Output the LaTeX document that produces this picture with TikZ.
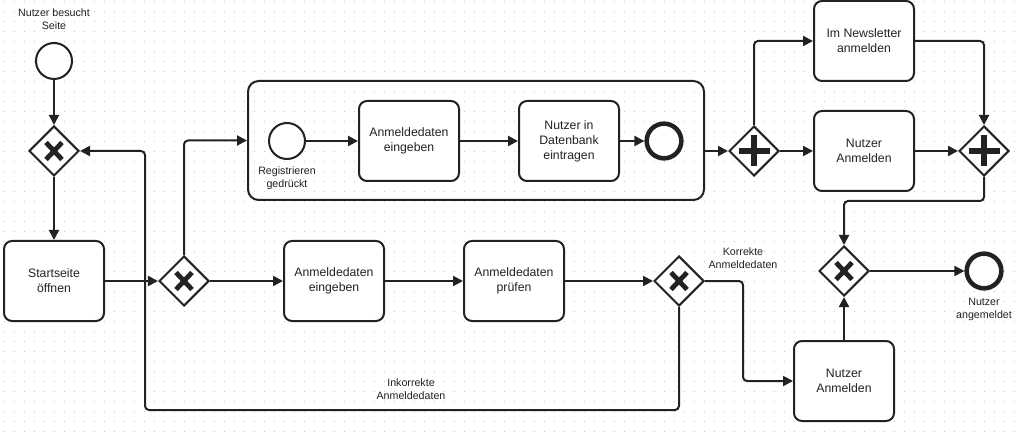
\documentclass[tikz,border=0pt]{standalone}
\usepackage{fontspec}
\setmainfont{Liberation Sans}
\usetikzlibrary{shapes.geometric,arrows.meta,calc}
\definecolor{ln}{HTML}{222222}
\definecolor{dotc}{HTML}{C4C4C4}
\tikzset{
 task/.style={draw=ln, fill=white, line width=1.5pt, rounded corners=6pt, minimum width=75pt, minimum height=60pt, align=center, font=\fontsize{9.2}{11.2}\selectfont, inner sep=0pt, text=ln},
 subproc/.style={draw=ln, line width=1.5pt, rounded corners=8pt, inner sep=0pt},
 gw/.style={draw=ln, diamond, line width=1.5pt, minimum width=37.5pt, minimum height=37.5pt, inner sep=0pt, fill=white},
 startev/.style={draw=ln, circle, line width=1.5pt, minimum size=27pt, inner sep=0pt, fill=white},
 endev/.style={draw=ln, circle, line width=3.4pt, minimum size=26pt, inner sep=0pt, fill=white},
 lbl/.style={align=center, font=\fontsize{8}{9.75}\selectfont, inner sep=0pt, text=ln},
 flow/.style={draw=ln, line width=1.5pt, rounded corners=3pt, -{Triangle[length=7.5pt,width=7.5pt]}},
 xmark/.style={draw=ln, line width=3.6pt},
 pmark/.style={draw=ln, line width=5.2pt},
}
\begin{document}
\begin{tikzpicture}[x=0.75pt,y=-0.75pt]
\useasboundingbox (0,0) rectangle (1019,434);
\fill[white] (0,0) rectangle (1019,434);
\foreach \x in {4,14,...,1014}{\foreach \y in {1,11,...,431}{\fill[dotc] (\x,\y) rectangle ++(1,1);}}
% nodes
\node[startev] (s0) at (54,61) {};
\node[lbl] (s0l) at (54,19) {Nutzer besucht\\Seite};
\node[gw] (g1) at (54,151) {};
\node[task] (t1) at (54,281) {Startseite\\öffnen};
\node[gw] (g2) at (184,281) {};
\node[task] (t2) at (334,281) {Anmeldedaten\\eingeben};
\node[task] (t3) at (514,281) {Anmeldedaten\\prüfen};
\node[gw] (g3) at (679,281) {};
\node[lbl] (l3) at (743,258) {Korrekte\\Anmeldedaten};
\node[lbl] (l4) at (411,389) {Inkorrekte\\Anmeldedaten};
\node[subproc, minimum width=342pt, minimum height=89.25pt] (sp) at (476,140.5) {};
\node[startev] (ss) at (287,141) {};
\node[lbl] (ssl) at (287,178) {Registrieren\\gedrückt};
\node[task] (t4) at (409,141) {Anmeldedaten\\eingeben};
\node[task] (t5) at (569,141) {Nutzer in\\Datenbank\\eintragen};
\node[endev] (se) at (664,141) {};
\node[gw] (a1) at (754,151) {};
\node[task] (t6) at (864,41) {Im Newsletter\\anmelden};
\node[task] (t7) at (864,151) {Nutzer\\Anmelden};
\node[gw] (a2) at (984,151) {};
\node[gw] (g4) at (844,271) {};
\node[endev] (e1) at (984,271) {};
\node[lbl] (e1l) at (984,309) {Nutzer\\angemeldet};
\node[task] (t8) at (844,381) {Nutzer\\Anmelden};
\coordinate (lp) at (145,410);
\coordinate (kr) at (743,330);
\coordinate (jn) at (914,201);
% gateway marks
\foreach \g in {g1,g2,g3,g4}{
 \draw[xmark] ([shift={(-8,-8.5)}]\g.center) -- ([shift={(8,8.5)}]\g.center)
   ([shift={(-8,8.5)}]\g.center) -- ([shift={(8,-8.5)}]\g.center);
}
\foreach \g in {a1,a2}{
 \draw[pmark] ([shift={(-15.5,0)}]\g.center) -- ([shift={(15.5,0)}]\g.center)
   ([shift={(0,-15.5)}]\g.center) -- ([shift={(0,15.5)}]\g.center);
}
% flows
\draw[flow] (s0) -- (g1);
\draw[flow] (g1) -- (t1);
\draw[flow] (t1) -- (g2);
\draw[flow] (g2) -- (t2);
\draw[flow] (t2) -- (t3);
\draw[flow] (t3) -- (g3);
\draw[flow] (g2.north) |- (sp.west);
\draw[flow] (g3.south) |- (lp) |- (g1.east);
\draw[flow] (g3.east) -| (kr) |- (t8.west);
\draw[flow] (ss) -- (t4);
\draw[flow] (t4) -- (t5);
\draw[flow] (t5) -- (se);
\draw[flow] (sp.east |- a1) -- (a1);
\draw[flow] (a1.north) |- (t6.west);
\draw[flow] (a1) -- (t7);
\draw[flow] (t7) -- (a2);
\draw[flow] (t6.east) -| (a2.north);
\draw[flow] (a2.south) |- (jn) -| (g4.north);
\draw[flow] (t8) -- (g4);
\draw[flow] (g4) -- (e1);
\end{tikzpicture}
\end{document}
